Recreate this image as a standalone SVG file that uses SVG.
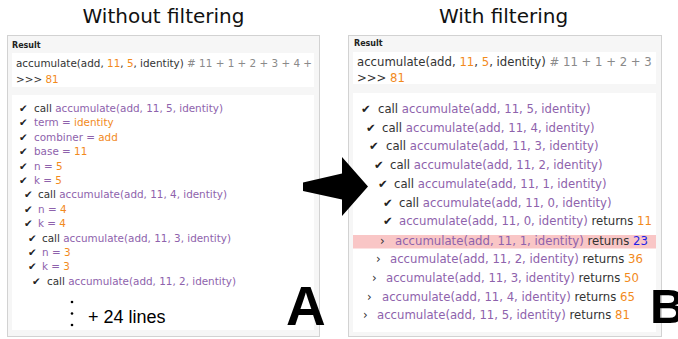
<svg xmlns="http://www.w3.org/2000/svg" width="678" height="339" viewBox="0 0 678 339">
<style>
.title{font-family:"DejaVu Sans",Verdana,sans-serif;font-size:20px;fill:#111;text-anchor:middle}
.panel{fill:#f6f6f6;stroke:#d2d2d2;stroke-width:1}
.box{fill:#fff}
.res{font-family:"DejaVu Sans",Verdana,sans-serif;font-weight:bold;font-size:8px;fill:#222}
.cl{font-family:"DejaVu Sans",Verdana,sans-serif;font-size:10.4px;fill:#333}
.cr{font-family:"DejaVu Sans",Verdana,sans-serif;font-size:11.7px;fill:#333}
.p{fill:#8e62ac}
.o{fill:#f28a1c}
.g{fill:#8a8a8a}
.b{fill:#1f1fe6}
.ck{fill:#222}
.big{font-family:"Liberation Sans",Arial,sans-serif;font-weight:bold;fill:#000}
</style>
<defs>
<clipPath id="clipL"><rect x="12" y="53" width="302" height="34"/></clipPath>
<clipPath id="clipR"><rect x="353" y="52" width="303" height="32"/></clipPath>
</defs>
<rect width="678" height="339" fill="#fff"/>
<text class="title" x="163.5" y="23">Without filtering</text>
<text class="title" x="503.5" y="23">With filtering</text>

<g id="panel-without">
<rect class="panel" x="7.5" y="35.5" width="312" height="301"/>
<text class="res" x="12" y="47.5">Result</text>
<rect class="box" x="12" y="53" width="302" height="34"/>
<text class="cl" x="16" y="67" clip-path="url(#clipL)">accumulate(add, <tspan class="o">11</tspan>, <tspan class="o">5</tspan>, identity) <tspan class="g"># 11 + 1 + 2 + 3 + 4 +</tspan></text>
<text class="cl" x="16" y="82.5">&gt;&gt;&gt; <tspan class="o">81</tspan></text>
<rect class="box" x="12" y="95" width="302" height="235"/>
<g class="cl">
<text class="ck" x="19" y="112">✔</text><text x="34" y="112">call <tspan class="p">accumulate(add, 11, 5, identity)</tspan></text>
<text class="ck" x="19" y="126.4">✔</text><text x="34" y="126.4"><tspan class="p">term = </tspan><tspan class="o">identity</tspan></text>
<text class="ck" x="19" y="140.8">✔</text><text x="34" y="140.8"><tspan class="p">combiner = </tspan><tspan class="o">add</tspan></text>
<text class="ck" x="19" y="155.2">✔</text><text x="34" y="155.2"><tspan class="p">base = </tspan><tspan class="o">11</tspan></text>
<text class="ck" x="19" y="169.6">✔</text><text x="34" y="169.6"><tspan class="p">n = </tspan><tspan class="o">5</tspan></text>
<text class="ck" x="19" y="184">✔</text><text x="34" y="184"><tspan class="p">k = </tspan><tspan class="o">5</tspan></text>
<text class="ck" x="24" y="198.4">✔</text><text x="38" y="198.4">call <tspan class="p">accumulate(add, 11, 4, identity)</tspan></text>
<text class="ck" x="24" y="212.8">✔</text><text x="38" y="212.8"><tspan class="p">n = </tspan><tspan class="o">4</tspan></text>
<text class="ck" x="24" y="227.2">✔</text><text x="38" y="227.2"><tspan class="p">k = </tspan><tspan class="o">4</tspan></text>
<text class="ck" x="28" y="241.6">✔</text><text x="42" y="241.6">call <tspan class="p">accumulate(add, 11, 3, identity)</tspan></text>
<text class="ck" x="28" y="256">✔</text><text x="42" y="256"><tspan class="p">n = </tspan><tspan class="o">3</tspan></text>
<text class="ck" x="28" y="270.4">✔</text><text x="42" y="270.4"><tspan class="p">k = </tspan><tspan class="o">3</tspan></text>
<text class="ck" x="32" y="284.8">✔</text><text x="47" y="284.8">call <tspan class="p">accumulate(add, 11, 2, identity)</tspan></text>
</g>
<circle cx="72" cy="302" r="1.3" fill="#000"/>
<circle cx="72" cy="313.5" r="1.3" fill="#000"/>
<circle cx="72" cy="325" r="1.3" fill="#000"/>
<text x="88" y="323" font-family="Liberation Sans, Arial, sans-serif" font-size="18" fill="#000">+ 24 lines</text>
<text class="big" x="286" y="325" font-size="55">A</text>
</g>

<g id="panel-with">
<rect class="panel" x="348.5" y="35.5" width="313" height="301"/>
<text class="res" x="354" y="46">Result</text>
<rect class="box" x="353" y="52" width="303" height="32"/>
<text class="cr" x="357" y="66" clip-path="url(#clipR)">accumulate(add, <tspan class="o">11</tspan>, <tspan class="o">5</tspan>, identity) <tspan class="g"># 11 + 1 + 2 + 3</tspan></text>
<text class="cr" x="357" y="81.5">&gt;&gt;&gt; <tspan class="o">81</tspan></text>
<rect class="box" x="353" y="93" width="303" height="239"/>
<rect x="353" y="235" width="303" height="13.5" fill="#f9c6c6"/>
<g class="cr">
<text class="ck" x="361" y="113">✔</text><text x="378" y="113">call <tspan class="p">accumulate(add, 11, 5, identity)</tspan></text>
<text class="ck" x="366" y="131.7">✔</text><text x="382" y="131.7">call <tspan class="p">accumulate(add, 11, 4, identity)</tspan></text>
<text class="ck" x="369" y="150.4">✔</text><text x="386" y="150.4">call <tspan class="p">accumulate(add, 11, 3, identity)</tspan></text>
<text class="ck" x="374" y="169.1">✔</text><text x="390" y="169.1">call <tspan class="p">accumulate(add, 11, 2, identity)</tspan></text>
<text class="ck" x="378" y="187.8">✔</text><text x="394" y="187.8">call <tspan class="p">accumulate(add, 11, 1, identity)</tspan></text>
<text class="ck" x="383" y="206.5">✔</text><text x="399" y="206.5">call <tspan class="p">accumulate(add, 11, 0, identity)</tspan></text>
<text class="ck" x="383" y="225.2">✔</text><text x="399" y="225.2"><tspan class="p">accumulate(add, 11, 0, identity)</tspan> returns <tspan class="o">11</tspan></text>
<text x="380" y="244.5">›</text><text x="395" y="244.5"><tspan class="p">accumulate(add, 11, 1, identity)</tspan> returns <tspan class="b">23</tspan></text>
<text x="376" y="263.2">›</text><text x="390" y="263.2"><tspan class="p">accumulate(add, 11, 2, identity)</tspan> returns <tspan class="o">36</tspan></text>
<text x="372" y="281.9">›</text><text x="386" y="281.9"><tspan class="p">accumulate(add, 11, 3, identity)</tspan> returns <tspan class="o">50</tspan></text>
<text x="367" y="300.6">›</text><text x="382" y="300.6"><tspan class="p">accumulate(add, 11, 4, identity)</tspan> returns <tspan class="o">65</tspan></text>
<text x="363" y="319.3">›</text><text x="377" y="319.3"><tspan class="p">accumulate(add, 11, 5, identity)</tspan> returns <tspan class="o">81</tspan></text>
</g>
<text class="big" x="650" y="323" font-size="49">B</text>
</g>

<g id="connectors">
<polygon points="303,182.5 342,173.5 342,157 368,186.5 342,216 342,199.5 303,191" fill="#000"/>
</g>
</svg>
